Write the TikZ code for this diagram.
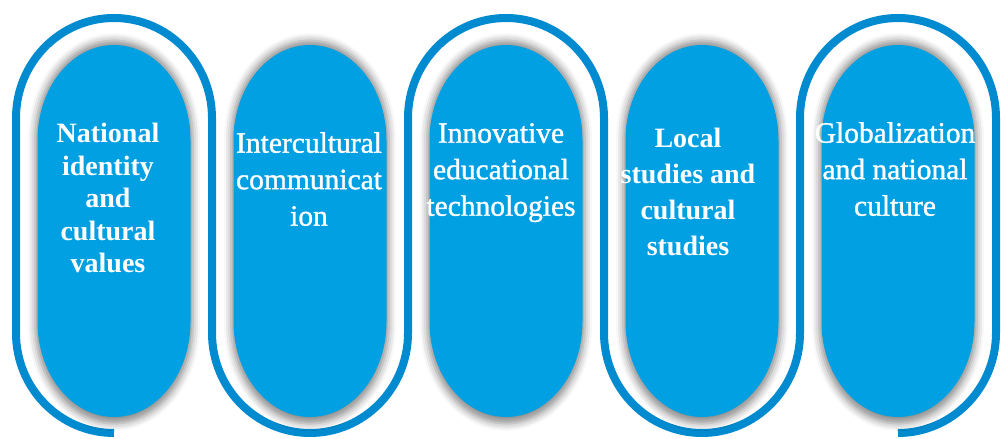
\documentclass[tikz,border=0pt]{standalone}
\usepackage{fontspec}
\setmainfont{Liberation Serif}
\usetikzlibrary{shadows.blur}

\definecolor{pillblue}{RGB}{0,160,226}
\definecolor{lineblue}{RGB}{0,138,208}

\tikzset{
  pill/.style={fill=pillblue, blur shadow={shadow xshift=0pt, shadow yshift=-1pt,
      shadow scale=1.03, shadow blur radius=7pt, shadow opacity=45}},
  meander/.style={draw=lineblue, line width=8pt},
  pilltext/.style={text=white, align=center, anchor=north, inner sep=0pt,
      font=\fontsize{29.5}{36.5}\selectfont\addfontfeature{FakeBold=1.2}},
  boldtext/.style={pilltext, font=\fontsize{28}{36}\selectfont\bfseries}
}

\begin{document}
\begin{tikzpicture}[x=1pt, y=1pt]
  \useasboundingbox (0,0) rectangle (1005,439);

  % the winding band
  \draw[meander] (114,6)
    arc[start angle=270, end angle=180, x radius=98pt, y radius=100pt] -- (16,321)
    arc[start angle=180, end angle=0, x radius=98pt, y radius=100pt] -- (212,106)
    arc[start angle=180, end angle=360, x radius=98pt, y radius=100pt] -- (408,321)
    arc[start angle=180, end angle=0, x radius=98pt, y radius=100pt] -- (604,106)
    arc[start angle=180, end angle=360, x radius=98pt, y radius=100pt] -- (800,321)
    arc[start angle=180, end angle=0, x radius=98pt, y radius=100pt] -- (996,106)
    arc[start angle=0, end angle=-90, x radius=98pt, y radius=100pt];

  % the pills
  \foreach \cx in {114,310,506,702,898}
    \path[pill] (\cx-76.5,117) -- (\cx-76.5,299)
      arc[start angle=180, end angle=0, x radius=76.5pt, y radius=95pt] -- (\cx+76.5,117)
      arc[start angle=0, end angle=-180, x radius=76.5pt, y radius=95pt] -- cycle;

  \node[boldtext, font=\fontsize{28}{32.5}\selectfont\bfseries] (identity) at (108,316)
    {National\\identity\\and\\cultural\\values};
  \node[pilltext] (intercult) at (309,307) {Intercultural\\communicat\\ion};
  \node[pilltext] (innov) at (501,316) {Innovative\\educational\\technologies};
  \node[boldtext] (local) at (688,311) {Local\\studies and\\cultural\\studies};
  \node[pilltext] (global) at (895,317) {Globalization\\and national\\culture};
\end{tikzpicture}
\end{document}
